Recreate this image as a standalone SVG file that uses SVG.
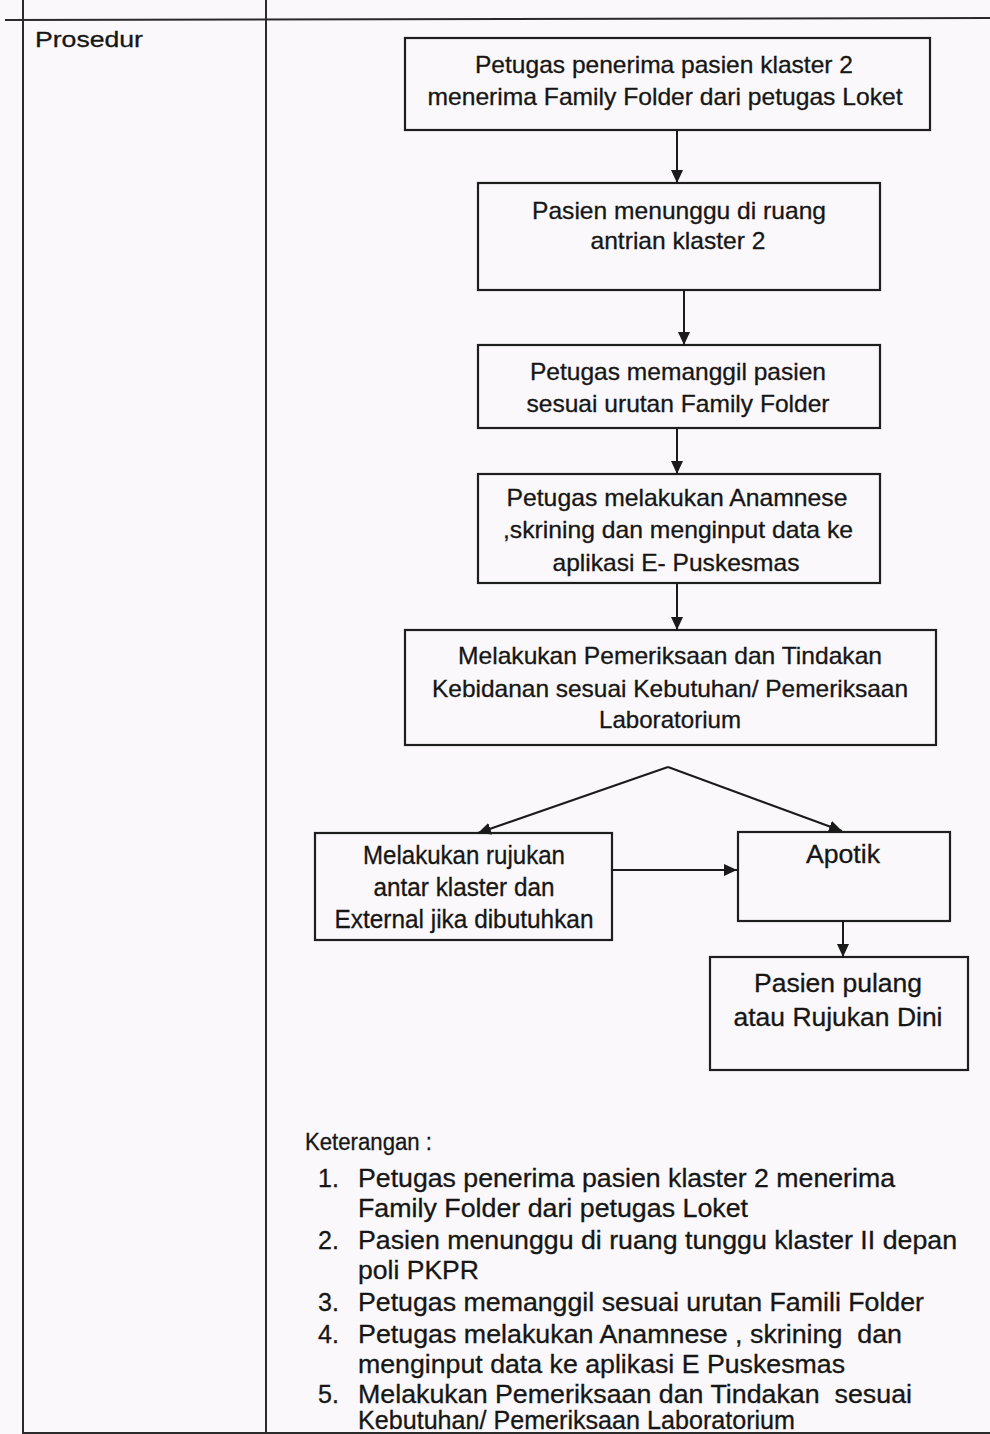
<svg xmlns="http://www.w3.org/2000/svg" width="990" height="1434" viewBox="0 0 990 1434">
<defs>
<marker id="ah" viewBox="0 0 13 12" refX="13" refY="6" markerWidth="13" markerHeight="12" markerUnits="userSpaceOnUse" orient="auto">
<path d="M0,0 L13,6 L0,12 z" fill="#1a1a1a"/>
</marker>
</defs>
<style>
.bg{fill:#faf8fa}
.frame{stroke:#2a2a2a;stroke-width:2;fill:none}
.box{fill:none;stroke:#1e1e1e;stroke-width:2.2}
.t{font-family:"Liberation Sans",Arial,sans-serif;font-size:24px;fill:#161616;stroke:#161616;stroke-width:0.3;text-anchor:middle}
.l{font-family:"Liberation Sans",Arial,sans-serif;font-size:25px;fill:#161616;stroke:#161616;stroke-width:0.3}
.c{stroke:#1a1a1a;stroke-width:2;fill:none;marker-end:url(#ah)}
</style>
<rect class="bg" x="0" y="0" width="990" height="1434"/>
<g id="table">
<line class="frame" x1="5" y1="20" x2="990" y2="18"/>
<line class="frame" x1="23" y1="0" x2="23" y2="1434"/>
<line class="frame" x1="266" y1="0" x2="266" y2="1434"/>
<line class="frame" x1="23" y1="1433" x2="990" y2="1433"/>
<text class="l" x="35" y="47" style="font-size:22px" textLength="108" lengthAdjust="spacingAndGlyphs">Prosedur</text>
</g>
<g id="n1">
<rect class="box" x="405" y="38" width="525" height="92"/>
<text class="t" x="664" y="73" textLength="378" lengthAdjust="spacingAndGlyphs">Petugas penerima pasien klaster 2</text>
<text class="t" x="665" y="105" textLength="475" lengthAdjust="spacingAndGlyphs">menerima Family Folder dari petugas Loket</text>
</g>
<g id="n2">
<rect class="box" x="478" y="183" width="402" height="107"/>
<text class="t" x="679" y="219" textLength="294" lengthAdjust="spacingAndGlyphs">Pasien menunggu di ruang</text>
<text class="t" x="678" y="249" textLength="175" lengthAdjust="spacingAndGlyphs">antrian klaster 2</text>
</g>
<g id="n3">
<rect class="box" x="478" y="345" width="402" height="83"/>
<text class="t" x="678" y="380" textLength="296" lengthAdjust="spacingAndGlyphs">Petugas memanggil pasien</text>
<text class="t" x="678" y="412" textLength="303" lengthAdjust="spacingAndGlyphs">sesuai urutan Family Folder</text>
</g>
<g id="n4">
<rect class="box" x="478" y="474" width="402" height="109"/>
<text class="t" x="677" y="506" textLength="341" lengthAdjust="spacingAndGlyphs">Petugas melakukan Anamnese</text>
<text class="t" x="678" y="538" textLength="350" lengthAdjust="spacingAndGlyphs">,skrining dan menginput data ke</text>
<text class="t" x="676" y="571" textLength="247" lengthAdjust="spacingAndGlyphs">aplikasi E- Puskesmas</text>
</g>
<g id="n5">
<rect class="box" x="405" y="630" width="531" height="115"/>
<text class="t" x="670" y="664" textLength="424" lengthAdjust="spacingAndGlyphs">Melakukan Pemeriksaan dan Tindakan</text>
<text class="t" x="670" y="697" textLength="476" lengthAdjust="spacingAndGlyphs">Kebidanan sesuai Kebutuhan/ Pemeriksaan</text>
<text class="t" x="670" y="728" textLength="142" lengthAdjust="spacingAndGlyphs">Laboratorium</text>
</g>
<g id="n6">
<rect class="box" x="315" y="833" width="297" height="107"/>
<text class="t" x="464" y="864" style="font-size:25px" textLength="202" lengthAdjust="spacingAndGlyphs">Melakukan rujukan</text>
<text class="t" x="464" y="896" style="font-size:25px" textLength="181" lengthAdjust="spacingAndGlyphs">antar klaster dan</text>
<text class="t" x="464" y="928" style="font-size:25px" textLength="259" lengthAdjust="spacingAndGlyphs">External jika dibutuhkan</text>
</g>
<g id="n7">
<rect class="box" x="738" y="832" width="212" height="89"/>
<text class="t" x="843" y="863" style="font-size:25px" textLength="74" lengthAdjust="spacingAndGlyphs">Apotik</text>
</g>
<g id="n8">
<rect class="box" x="710" y="957" width="258" height="113"/>
<text class="t" x="838" y="992" style="font-size:25px" textLength="168" lengthAdjust="spacingAndGlyphs">Pasien pulang</text>
<text class="t" x="838" y="1026" style="font-size:25px" textLength="209" lengthAdjust="spacingAndGlyphs">atau Rujukan Dini</text>
</g>
<g id="connectors">
<line class="c" x1="677" y1="130" x2="677" y2="183"/>
<line class="c" x1="684" y1="290" x2="684" y2="345"/>
<line class="c" x1="677" y1="428" x2="677" y2="474"/>
<line class="c" x1="677" y1="583" x2="677" y2="630"/>
<polyline class="c" points="668,767 478,833"/>
<polyline class="c" points="668,767 842,831"/>
<line class="c" x1="612" y1="870" x2="737" y2="870"/>
<line class="c" x1="843" y1="921" x2="843" y2="957"/>
</g>
<g id="keterangan">
<text class="l" x="305" y="1150" style="font-size:23px" textLength="127" lengthAdjust="spacingAndGlyphs">Keterangan :</text>
<text class="l" x="318" y="1187">1.</text>
<text class="l" x="358" y="1187" textLength="537" lengthAdjust="spacingAndGlyphs">Petugas penerima pasien klaster 2 menerima</text>
<text class="l" x="358" y="1217" textLength="390" lengthAdjust="spacingAndGlyphs">Family Folder dari petugas Loket</text>
<text class="l" x="318" y="1249">2.</text>
<text class="l" x="358" y="1249" textLength="599" lengthAdjust="spacingAndGlyphs">Pasien menunggu di ruang tunggu klaster II depan</text>
<text class="l" x="358" y="1279" textLength="121" lengthAdjust="spacingAndGlyphs">poli PKPR</text>
<text class="l" x="318" y="1311">3.</text>
<text class="l" x="358" y="1311" textLength="566" lengthAdjust="spacingAndGlyphs">Petugas memanggil sesuai urutan Famili Folder</text>
<text class="l" x="318" y="1343">4.</text>
<text class="l" x="358" y="1343" xml:space="preserve" textLength="544" lengthAdjust="spacingAndGlyphs">Petugas melakukan Anamnese , skrining  dan</text>
<text class="l" x="358" y="1373" textLength="487" lengthAdjust="spacingAndGlyphs">menginput data ke aplikasi E Puskesmas</text>
<text class="l" x="318" y="1403">5.</text>
<text class="l" x="358" y="1403" xml:space="preserve" textLength="554" lengthAdjust="spacingAndGlyphs">Melakukan Pemeriksaan dan Tindakan  sesuai</text>
<text class="l" x="358" y="1429" textLength="437" lengthAdjust="spacingAndGlyphs">Kebutuhan/ Pemeriksaan Laboratorium</text>
</g>
</svg>
